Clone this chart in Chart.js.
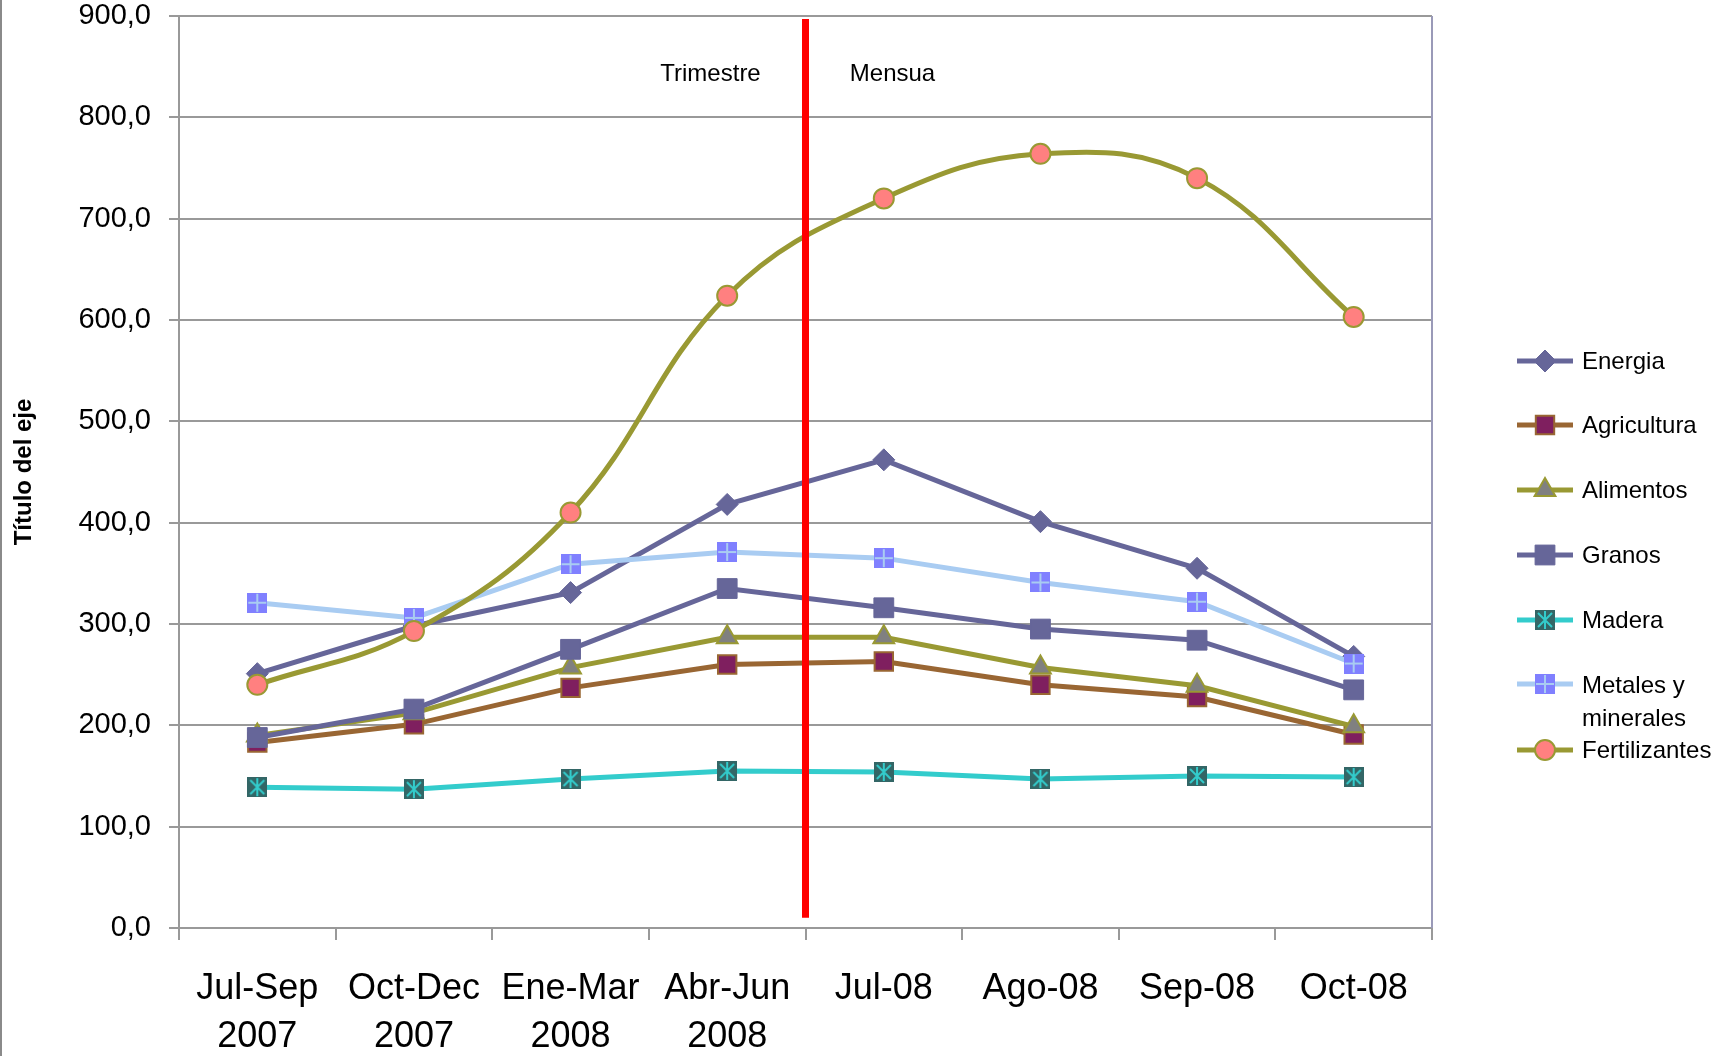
<!DOCTYPE html>
<html>
<head>
<meta charset="utf-8">
<script src="https://cdn.jsdelivr.net/npm/chart.js@4/dist/chart.umd.min.js"></script>
<style>
  html, body { margin: 0; padding: 0; background: #fff; }
  #wrap { width: 1736px; height: 1056px; position: relative; }
  #wrap:before { content: ''; position: absolute; left: 0; top: 0; width: 2px; height: 1056px; background: #8a8a8a; }
</style>
</head>
<body>
<div id="wrap"><canvas id="chart" width="1736" height="1056"></canvas></div>
<script>
// categorias y series
const categories = [['Jul-Sep', '2007'], ['Oct-Dec', '2007'], ['Ene-Mar', '2008'], ['Abr-Jun', '2008'], 'Jul-08', 'Ago-08', 'Sep-08', 'Oct-08'];
const seriesNames = ['Energia', 'Agricultura', 'Alimentos', 'Granos', 'Madera', 'Metales y minerales', 'Fertilizantes'];
const energia = [251, 298, 331, 418, 462, 401, 355, 268];
const agricultura = [183, 201, 237, 260, 263, 240, 228, 191];
const alimentos = [190, 212, 257, 287, 287, 257, 239, 199];
const granos = [188, 216, 275, 335, 316, 295, 284, 235];
const madera = [139, 137, 147, 155, 154, 147, 150, 149];
const metales = [321, 306, 359, 371, 365, 341, 322, 261];
const fertilizantes = [240, 293, 410, 624, 720, 764, 740, 603];
const yTicks = [0, 100, 200, 300, 400, 500, 600, 700, 800, 900];
const periodLabels = ['Trimestre', 'Mensua'];

// marcadores especiales (Madera y Metales)
function maderaMarker() {
  const c = document.createElement('canvas');
  c.width = 20; c.height = 20;
  const g = c.getContext('2d');
  g.fillStyle = '#336666';
  g.fillRect(0, 0, 20, 20);
  g.strokeStyle = '#33CCCC';
  g.lineWidth = 2;
  g.beginPath();
  g.moveTo(3, 3); g.lineTo(17, 17);
  g.moveTo(17, 3); g.lineTo(3, 17);
  g.moveTo(10, 1); g.lineTo(10, 19);
  g.stroke();
  return c;
}
function metalesMarker() {
  const c = document.createElement('canvas');
  c.width = 20; c.height = 20;
  const g = c.getContext('2d');
  g.fillStyle = '#8080FF';
  g.fillRect(0, 0, 20, 20);
  g.strokeStyle = '#A9CCF2';
  g.lineWidth = 2;
  g.beginPath();
  g.moveTo(10, 1); g.lineTo(10, 19);
  g.moveTo(1, 10); g.lineTo(19, 10);
  g.stroke();
  return c;
}

const datasets = [
  { label: seriesNames[0], data: energia, borderColor: '#666699', backgroundColor: '#666699',
    pointStyle: 'rectRot', pointRadius: 11, pointBorderWidth: 1, borderWidth: 5 },
  { label: seriesNames[1], data: agricultura, borderColor: '#996633', backgroundColor: '#7F1F5F',
    pointStyle: 'rect', pointRadius: 13, pointBorderWidth: 2, pointBorderColor: '#996633', borderWidth: 5 },
  { label: seriesNames[2], data: alimentos, borderColor: '#999933', backgroundColor: '#808080',
    pointStyle: 'triangle', pointRadius: 12, pointBorderWidth: 2, pointBorderColor: '#999933', borderWidth: 5 },
  { label: seriesNames[3], data: granos, borderColor: '#666699', backgroundColor: '#666699',
    pointStyle: 'rect', pointRadius: 14, pointBorderWidth: 1, borderWidth: 5 },
  { label: seriesNames[4], data: madera, borderColor: '#33CCCC', backgroundColor: '#336666',
    pointStyle: maderaMarker(), pointRadius: 10, borderWidth: 5 },
  { label: seriesNames[5], data: metales, borderColor: '#A9CCF2', backgroundColor: '#8080FF',
    pointStyle: metalesMarker(), pointRadius: 10, borderWidth: 5 },
  { label: seriesNames[6], data: fertilizantes, borderColor: '#999933', backgroundColor: '#FF8080',
    pointStyle: 'circle', pointRadius: 10, pointBorderWidth: 2, pointBorderColor: '#999933', borderWidth: 5,
    tension: 0.4 }
];
datasets.forEach((d, i) => { d.order = -i; d.pointHoverRadius = d.pointRadius; });

const textFont = '"Liberation Sans", Arial, sans-serif';

// linea roja, textos de periodo, borde derecho y leyenda
const extras = {
  id: 'extras',
  afterDatasetsDraw(chart) {
    const ctx = chart.ctx;
    const x = chart.scales.x, y = chart.scales.y;
    const area = chart.chartArea;
    ctx.save();
    // borde derecho
    ctx.strokeStyle = '#9a9ab8';
    ctx.lineWidth = 2;
    ctx.beginPath();
    ctx.moveTo(area.right, area.top);
    ctx.lineTo(area.right, area.bottom);
    ctx.stroke();
    // separador trimestral / mensual
    const sx = (x.getPixelForValue(3) + x.getPixelForValue(4)) / 2;
    ctx.strokeStyle = '#FF0000';
    ctx.lineWidth = 7;
    ctx.beginPath();
    ctx.moveTo(sx, y.getPixelForValue(897));
    ctx.lineTo(sx, y.getPixelForValue(10));
    ctx.stroke();
    ctx.fillStyle = '#000';
    ctx.font = '24px ' + textFont;
    ctx.textAlign = 'center';
    ctx.textBaseline = 'middle';
    ctx.fillText(periodLabels[0], sx - 95, 74);
    ctx.fillText(periodLabels[1], sx + 87, 74);

    // leyenda
    const rows = [361, 425, 490, 555, 620, 684, 750];
    ctx.textAlign = 'left';
    chart.data.datasets.forEach((ds, i) => {
      const ry = rows[i];
      ctx.strokeStyle = ds.borderColor;
      ctx.lineWidth = 5;
      ctx.beginPath();
      ctx.moveTo(1517, ry);
      ctx.lineTo(1573, ry);
      ctx.stroke();
      ctx.fillStyle = ds.backgroundColor;
      ctx.strokeStyle = ds.pointBorderColor || ds.borderColor;
      ctx.lineWidth = ds.pointBorderWidth || 0;
      Chart.helpers.drawPoint(ctx, {
        pointStyle: ds.pointStyle, radius: ds.pointRadius, rotation: 0,
        borderWidth: ds.pointBorderWidth || 0
      }, 1545, ry);
      ctx.fillStyle = '#000';
      ctx.font = '24px ' + textFont;
      if (i === 5) {
        ctx.fillText('Metales y', 1582, ry + 2);
        ctx.fillText('minerales', 1582, ry + 35);
      } else {
        ctx.fillText(ds.label, 1582, ry + 1);
      }
    });
    ctx.restore();
  }
};

new Chart(document.getElementById('chart'), {
  type: 'line',
  data: { labels: categories, datasets: datasets },
  plugins: [extras],
  options: {
    responsive: false,
    animation: false,
    layout: { padding: { top: 16, right: 304, left: 0, bottom: 0 } },
    plugins: { legend: { display: false }, tooltip: { enabled: false } },
    scales: {
      x: {
        offset: true,
        grid: { offset: true, drawOnChartArea: false, drawTicks: true, tickLength: 12, color: '#999', lineWidth: 2 },
        border: { color: '#999', width: 2 },
        ticks: {
          color: '#000', padding: 25, maxRotation: 0, autoSkip: false,
          font: { family: textFont, size: 36, lineHeight: 1.33 }
        },
        afterFit(scale) { scale.height = 128; scale.paddingLeft = 0; scale.paddingRight = 0; }
      },
      y: {
        min: 0, max: 900,
        afterBuildTicks(scale) { scale.ticks = yTicks.map(v => ({ value: v })); },
        grid: { color: '#999', lineWidth: 2, tickLength: 10 },
        border: { color: '#999', width: 2 },
        ticks: {
          color: '#000', padding: 18,
          font: { family: textFont, size: 29 },
          callback: v => v.toFixed(1).replace('.', ',')
        },
        title: {
          display: true, text: 'Título del eje', color: '#000',
          font: { family: textFont, size: 24, weight: 'bold' },
          padding: { top: 10, bottom: 0 }
        },
        afterFit(scale) { scale.width = 179; scale.paddingTop = 0; scale.paddingBottom = 0; }
      }
    }
  }
});
</script>
</body>
</html>
